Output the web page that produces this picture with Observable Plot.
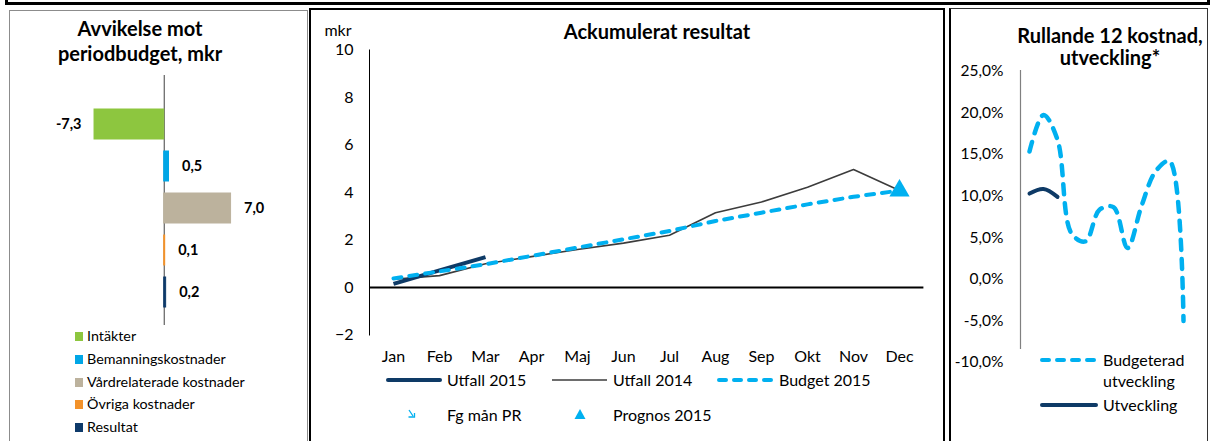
<!DOCTYPE html>
<html><head><meta charset="utf-8">
<script src="https://cdn.jsdelivr.net/npm/d3@7"></script>
<script src="https://cdn.jsdelivr.net/npm/@observablehq/plot@0.6"></script>
<style>
body{margin:0;background:#fff;font-family:Lato,"Open Sans",sans-serif;color:#000;}
#root{position:relative;width:1215px;height:441px;overflow:hidden;background:#fff;}
.abs{position:absolute;box-sizing:border-box;}
.t{position:absolute;white-space:nowrap;line-height:20px;height:20px;color:#000;}
</style></head><body><div id="root"></div>
<script>
// ---------- data ----------
const barCategories = ["Intäkter", "Bemanningskostnader", "Vårdrelaterade kostnader", "Övriga kostnader", "Resultat"];
const barValues = [-7.3, 0.5, 7.0, 0.1, 0.2];

const months = ["Jan", "Feb", "Mar", "Apr", "Maj", "Jun", "Jul", "Aug", "Sep", "Okt", "Nov", "Dec"];
const utfall2015 = [0.15, 0.72, 1.28];
const utfall2014 = [0.35, 0.5, 1.0, 1.3, 1.6, 1.87, 2.2, 3.15, 3.6, 4.22, 4.97, 4.08];
const budget2015 = [0.38, 0.68, 0.98, 1.33, 1.68, 2.03, 2.38, 2.8, 3.15, 3.5, 3.82, 4.08];
const prognosMonths = ["Dec"];
const prognosValues = [4.08];
const accTicks = [-2, 0, 2, 4, 6, 8, 10];

const budgeteradUtveckling = [15.35, 19.75, 16.75, 5.5, 4.55, 8.35, 8.67, 3.75, 8.8, 12.95, 14.2, -5.0];
const utveckling = [10.3, 10.85, 9.9];
const pctTicks = [-10, -5, 0, 5, 10, 15, 20, 25];

// ---------- styles ----------
const barColors = ["#8DC63F", "#00A6E6", "#BCB29D", "#F3922A", "#0E3A6A"];
const NAVY = "#0E3A66", CYAN = "#00B0F0", GRAY = "#3C3C3C";
const FONT = "Lato, 'Open Sans', sans-serif";

const root = document.getElementById("root");
function box(l, t, w, h, style) {
  const d = document.createElement("div"); d.className = "abs";
  Object.assign(d.style, {left: l + "px", top: t + "px", width: w + "px", height: h + "px"}, style || {});
  root.appendChild(d); return d;
}
function label(text, x, cy, o = {}) {
  const d = document.createElement("div"); d.className = "t"; d.textContent = text;
  d.style.fontSize = (o.size || 16) + "px"; d.style.top = (cy - 10) + "px";
  if (o.bold) d.style.fontWeight = "bold";
  if (o.center) { d.style.left = (x - 200) + "px"; d.style.width = "400px"; d.style.textAlign = "center"; }
  else d.style.left = x + "px";
  root.appendChild(d); return d;
}
function place(node, l, t) {
  const d = box(l, t, node.getAttribute("width"), node.getAttribute("height"), {});
  d.appendChild(node); return d;
}

// ---------- frames ----------
box(5, -10, 1205, 15, {border: "3px solid #000"});
box(9, 10, 299, 445, {border: "1px solid #8c8c8c"});
box(309, 8, 636, 445, {border: "2px solid #000"});
box(949, 8, 259, 445, {borderLeft: "2px solid #000", borderTop: "1px solid #333", borderRight: "1px solid #333"});

// ---------- left: bar chart ----------
const barData = barCategories.map((c, i) => ({category: c, value: barValues[i]}));
const fmt1 = v => v.toFixed(1).replace(".", ",");
const left = Plot.plot({
  width: 296, height: 250, margin: 0,
  style: {fontFamily: FONT, fontSize: "14px", color: "#000", background: "transparent"},
  x: {domain: [-16.1, 14.9], axis: null},
  y: {domain: barCategories, range: [26.85, 238.35], paddingInner: 0.29, paddingOuter: 0.145, axis: null},
  color: {domain: barCategories, range: barColors},
  marks: [
    Plot.ruleX([0], {stroke: "#404040", strokeWidth: 1}),
    Plot.barX(barData, {x: "value", y: "category", fill: "category", stroke: "category", strokeWidth: 1}),
    Plot.text(barData.filter(d => d.value < 0), {x: "value", y: "category", text: d => fmt1(d.value), textAnchor: "end", dx: -13, fontWeight: "bold", fontSize: 14.5}),
    Plot.text(barData.filter(d => d.value >= 0), {x: "value", y: "category", text: d => fmt1(d.value), textAnchor: "start", dx: 13, fontWeight: "bold", fontSize: 14.5})
  ]
});
place(left, 10, 75);
label("Avvikelse mot", 140, 28, {bold: true, size: 20, center: true});
label("periodbudget, mkr", 140, 53, {bold: true, size: 20, center: true});
const legendRowsY = [336, 359, 382, 404, 427];
barCategories.forEach((c, i) => {
  box(75, legendRowsY[i] - 4.5, 8, 9, {background: barColors[i]});
  label(c, 87, legendRowsY[i], {size: 14.3});
});

// ---------- middle: accumulated result ----------
const rows = (arr) => arr.map((v, i) => ({month: months[i], value: v}));
const prognos = prognosMonths.map((m, i) => ({month: m, value: prognosValues[i]}));
const mid = Plot.plot({
  width: 632, height: 430,
  marginLeft: 58, marginRight: 19.6, marginTop: 39.5, marginBottom: 105.5,
  style: {fontFamily: FONT, fontSize: "16px", color: "#000", background: "transparent"},
  x: {type: "point", domain: months, padding: 0.5, label: null, tickSize: 0, tickPadding: 16},
  y: {domain: [-2, 10], ticks: accTicks, label: null, tickSize: 0, tickPadding: 16},
  marks: [
    Plot.frame({anchor: "left", stroke: "#000", strokeWidth: 1}),
    Plot.ruleY([0], {stroke: "#000", strokeWidth: 2}),
    Plot.line(rows(utfall2014), {x: "month", y: "value", stroke: GRAY, strokeWidth: 1.6}),
    Plot.line(rows(utfall2015), {x: "month", y: "value", stroke: NAVY, strokeWidth: 4, strokeLinecap: "butt"}),
    Plot.line(rows(budget2015), {x: "month", y: "value", stroke: CYAN, strokeWidth: 4, strokeDasharray: "8,8", strokeLinecap: "round"}),
    Plot.dot(prognos, {x: "month", y: "value", symbol: "triangle", r: 7.5, fill: CYAN, stroke: "none"})
  ]
});
place(mid, 311, 10);
label("Ackumulerat resultat", 657, 31, {bold: true, size: 20, center: true});
label("mkr", 338, 30, {size: 16, center: true});
label("Utfall 2015", 447, 380); label("Utfall 2014", 613, 380); label("Budget 2015", 779, 380);
label("Fg mån PR", 447, 415); label("Prognos 2015", 613, 415);

// ---------- right: rolling 12 ----------
const right = Plot.plot({
  width: 255, height: 430,
  marginLeft: 69, marginRight: 13.3, marginTop: 60, marginBottom: 92,
  style: {fontFamily: FONT, fontSize: "15.5px", color: "#000", background: "transparent"},
  x: {type: "point", domain: months, padding: 0.5, axis: null},
  y: {domain: [-10, 25], range: [352, 60.7], ticks: pctTicks, tickFormat: v => v.toFixed(1).replace(".", ",") + "%", label: null, tickSize: 0, tickPadding: 17},
  marks: [
    Plot.frame({anchor: "left", stroke: "#808080", strokeWidth: 1.2}),
    Plot.line(rows(budgeteradUtveckling), {x: "month", y: "value", stroke: CYAN, strokeWidth: 4.5, strokeDasharray: "10,9", strokeLinecap: "round", curve: "catmull-rom"}),
    Plot.line(rows(utveckling), {x: "month", y: "value", stroke: NAVY, strokeWidth: 4, curve: "catmull-rom"})
  ]
});
place(right, 951, 10);
label("Rullande 12 kostnad,", 1110, 35, {bold: true, size: 20, center: true});
label("utveckling*", 1110, 57, {bold: true, size: 20, center: true});
label("Budgeterad", 1103, 360); label("utveckling", 1103, 381); label("Utveckling", 1103, 405);

// ---------- legend glyphs ----------
const ns = "http://www.w3.org/2000/svg";
const ov = document.createElementNS(ns, "svg");
ov.setAttribute("width", 1215); ov.setAttribute("height", 441);
ov.style.cssText = "position:absolute;left:0;top:0;pointer-events:none;";
root.appendChild(ov);
function seg(x1, x2, y, stroke, w, dash, cap) {
  const l = document.createElementNS(ns, "line");
  l.setAttribute("x1", x1); l.setAttribute("x2", x2); l.setAttribute("y1", y); l.setAttribute("y2", y);
  l.setAttribute("stroke", stroke); l.setAttribute("stroke-width", w);
  if (dash) l.setAttribute("stroke-dasharray", dash);
  l.setAttribute("stroke-linecap", cap || "butt");
  ov.appendChild(l);
}
function path(d, attrs) {
  const p = document.createElementNS(ns, "path"); p.setAttribute("d", d);
  for (const k in attrs) p.setAttribute(k, attrs[k]);
  ov.appendChild(p);
}
seg(388, 440, 380, NAVY, 4, null, "round");
seg(552, 607, 380, GRAY, 1.6);
seg(719, 772, 380, CYAN, 4, "7,8", "round");
path("M409,410 L413,416 M408.5,417 L414.5,417 L414.5,413", {stroke: CYAN, "stroke-width": 1.3, fill: "none"});
path("M580,409 L585.5,419 L574.5,419 Z", {fill: CYAN});
seg(1042, 1096, 360, CYAN, 4, "7,8", "round");
seg(1042, 1096, 405, NAVY, 4, null, "round");
</script></body></html>
